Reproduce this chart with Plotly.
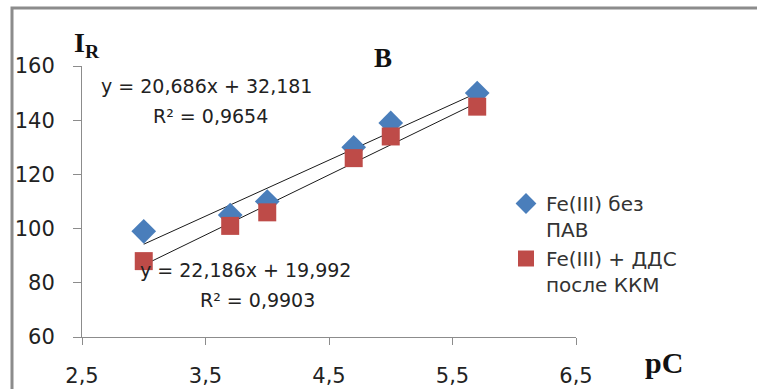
import plotly.graph_objects as go

# data
pC = [3.0, 3.7, 4.0, 4.7, 5.0, 5.7]
fe_no_surf = [99, 105, 110, 130, 139, 150]
fe_dds = [88, 101, 106, 126, 134, 145]
series_names = ["Fe(III) без<br>ПАВ", "Fe(III) + ДДС<br>после ККМ"]
slopes = [20.686, 22.186]
intercepts = [32.181, 19.992]
r2 = ["0,9654", "0,9903"]
x_ticks = [2.5, 3.5, 4.5, 5.5, 6.5]
x_ticklabels = ["2,5", "3,5", "4,5", "5,5", "6,5"]
y_ticks = [60, 80, 100, 120, 140, 160]

W, H = 757, 389
L, R, T, B = 82, 757 - 576, 66, 389 - 337

font_main = "'DejaVu Sans', sans-serif"
fig = go.Figure()

# trend lines
for s, b in zip(slopes, intercepts):
    xs = [min(pC), max(pC)]
    fig.add_trace(go.Scatter(x=xs, y=[s * x + b for x in xs], mode="lines",
                             line=dict(color="#1a1a1a", width=1), showlegend=False,
                             hoverinfo="skip"))

fig.add_trace(go.Scatter(x=pC, y=fe_no_surf, mode="markers", name=series_names[0],
                         marker=dict(symbol="diamond", size=19, color="#4a7ebb")))
fig.add_trace(go.Scatter(x=pC, y=fe_dds, mode="markers", name=series_names[1],
                         marker=dict(symbol="square", size=18, color="#be4b48")))

def px2x(px):
    return (px - L) / (W - L - R)

def px2y(py):
    return (H - B - py) / (H - T - B)

annots = [
    dict(text="y = 20,686x + 32,181", x=px2x(206), y=px2y(86)),
    dict(text="R² = " + r2[0], x=px2x(210), y=px2y(116)),
    dict(text="y = 22,186x + 19,992", x=px2x(245), y=px2y(270)),
    dict(text="R² = " + r2[1], x=px2x(257), y=px2y(300)),
]
for a in annots:
    fig.add_annotation(xref="paper", yref="paper", showarrow=False,
                       font=dict(family=font_main, size=19, color="#222"),
                       xanchor="center", yanchor="middle", **a)

# titles
fig.add_annotation(xref="paper", yref="paper", x=px2x(72), y=px2y(45), showarrow=False,
                   text="<b>I<sub>R</sub></b>", xanchor="left", yanchor="middle",
                   font=dict(family="Liberation Serif, serif", size=28, color="#111"))
fig.add_annotation(xref="paper", yref="paper", x=px2x(383), y=px2y(58), showarrow=False,
                   text="<b>В</b>", xanchor="center", yanchor="middle",
                   font=dict(family="Liberation Serif, serif", size=27, color="#111"))
fig.add_annotation(xref="paper", yref="paper", x=px2x(664), y=px2y(362), showarrow=False,
                   text="<b>рС</b>", xanchor="center", yanchor="middle",
                   font=dict(family="Liberation Serif, serif", size=30, color="#111"))

# outer border
fig.add_shape(type="rect", xref="paper", yref="paper",
              x0=px2x(12), x1=px2x(800), y0=px2y(420), y1=px2y(8),
              line=dict(color="#8c8c8c", width=3), fillcolor="rgba(0,0,0,0)")

fig.update_layout(
    width=W, height=H,
    margin=dict(l=L, r=R, t=T, b=B, autoexpand=False),
    paper_bgcolor="white", plot_bgcolor="white",
    font=dict(family=font_main, size=19, color="#222"),
    legend=dict(x=px2x(506), y=px2y(184), xanchor="left", yanchor="top",
                font=dict(family=font_main, size=20, color="#333"),
                bgcolor="rgba(0,0,0,0)", tracegroupgap=4, itemwidth=30, valign="top"),
    showlegend=True,
)
fig.update_xaxes(range=[2.5, 6.5], tickvals=x_ticks, ticktext=x_ticklabels,
                 showgrid=False, zeroline=False, showline=True, linecolor="#8c8c8c",
                 linewidth=1, ticks="outside", ticklen=7, tickcolor="#8c8c8c",
                 ticklabelstandoff=13, automargin=False,
                 tickfont=dict(family=font_main, size=21, color="#222"))
fig.update_yaxes(range=[60, 160], tickvals=y_ticks,
                 showgrid=False, zeroline=False, showline=True, linecolor="#8c8c8c",
                 linewidth=1, ticks="outside", ticklen=8, tickcolor="#8c8c8c",
                 ticklabelstandoff=14, automargin=False,
                 tickfont=dict(family=font_main, size=21, color="#222"))

fig.write_html("out.html")
